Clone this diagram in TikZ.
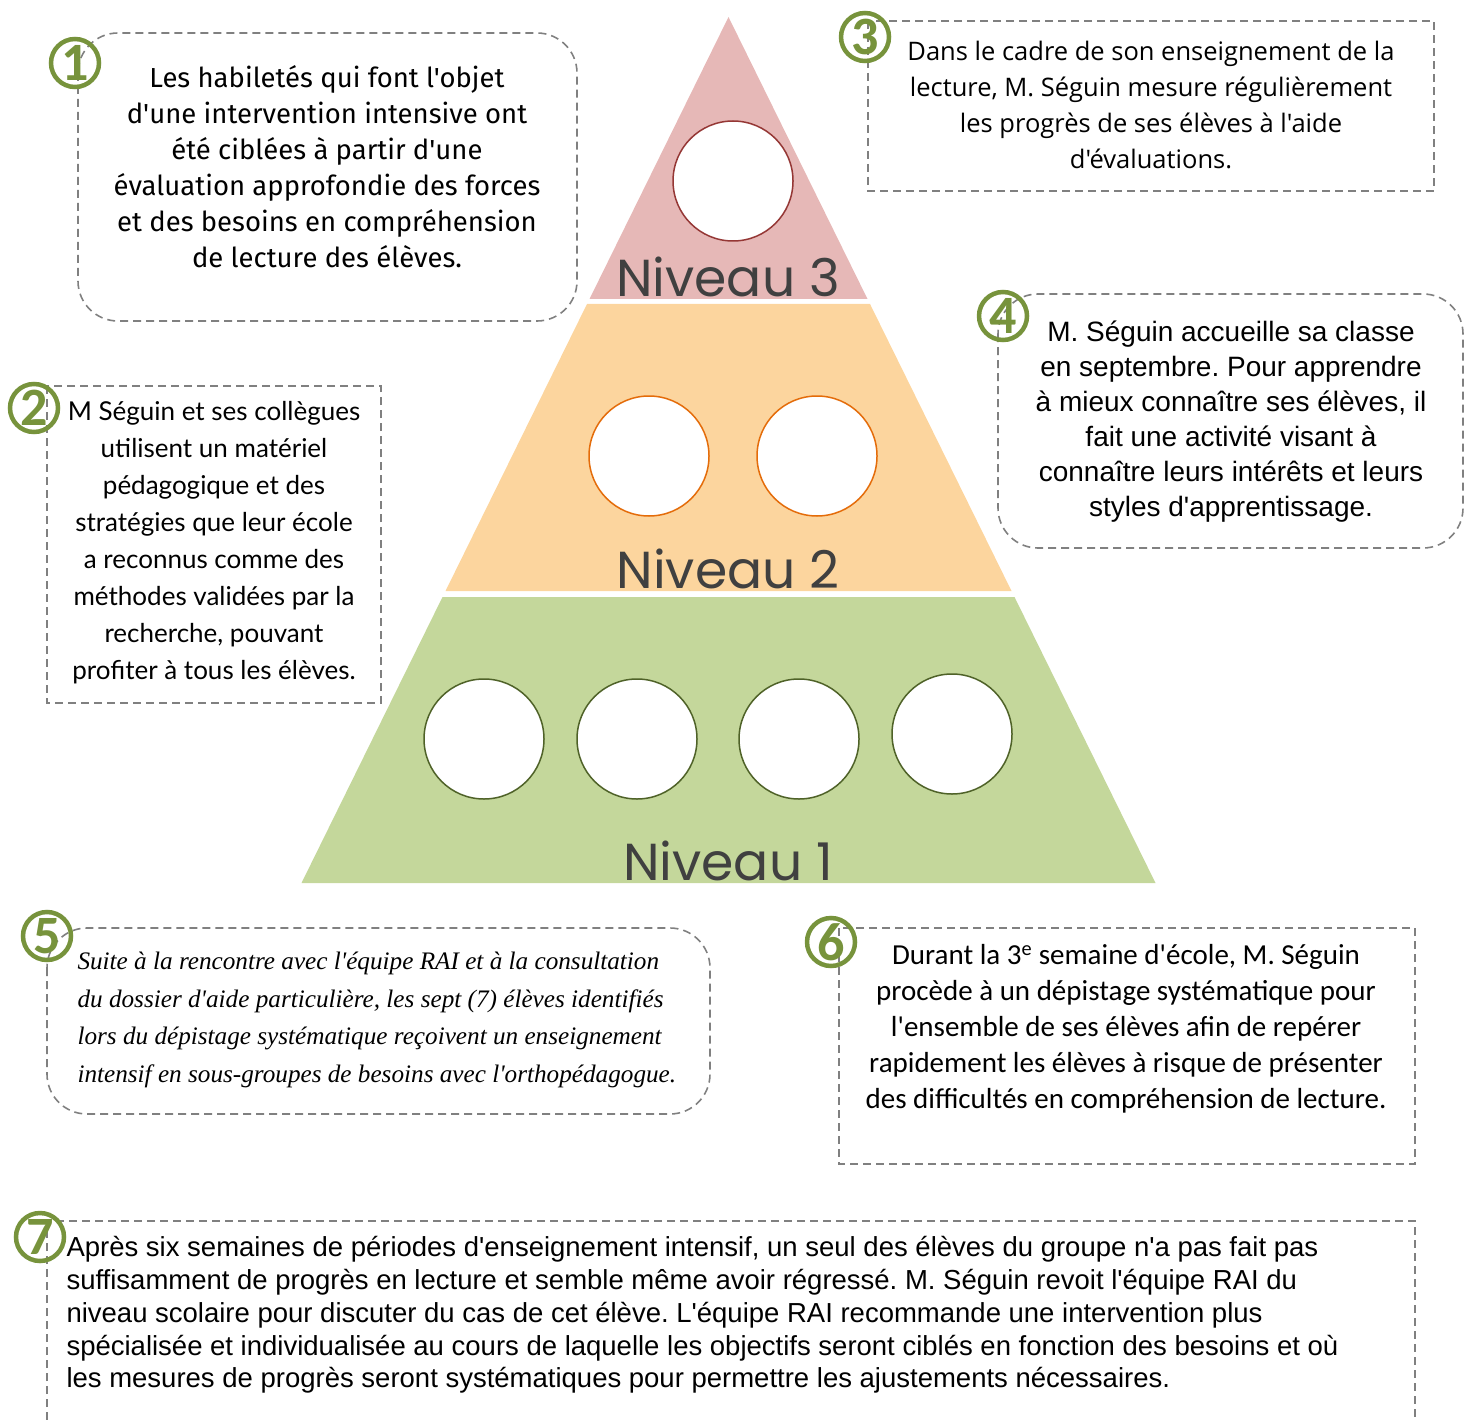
\documentclass[tikz,border=0pt]{standalone}
\usepackage{fontspec}
\setmainfont{Liberation Sans}
\newfontfamily\niveaufont{Poppins}
\newfontfamily\boxafont{Fira Sans}
\newfontfamily\boxbfont{Lato}
\newfontfamily\boxcfont{Open Sans}
\newfontfamily\boxdfont{Liberation Sans}
\newfontfamily\boxefont{Liberation Serif}
\newfontfamily\boxffont{Carlito}
\definecolor{lvlthree}{HTML}{E6B8B7}
\definecolor{lvltwo}{HTML}{FCD59E}
\definecolor{lvlone}{HTML}{C4D79B}
\definecolor{ringthree}{HTML}{953735}
\definecolor{ringtwo}{HTML}{E46C0A}
\definecolor{ringone}{HTML}{4F6228}
\definecolor{badgegreen}{HTML}{77933C}
\definecolor{dashgrey}{HTML}{808080}
\definecolor{niveaugrey}{HTML}{404040}
\begin{document}
\frenchspacing
\begin{tikzpicture}[x=1pt,y=-1pt,
  dbox/.style={draw=dashgrey,line width=1.6pt,dash pattern=on 8pt off 5pt},
  rbox/.style={dbox,rounded corners=40pt},
  badge/.style={circle,draw=badgegreen,line width=4.5pt,minimum size=48pt,inner sep=0pt,text=badgegreen,font=\boxffont\bfseries\fontsize{54}{54}\selectfont},
  ring/.style={circle,fill=white,line width=1.5pt,minimum size=120pt,inner sep=0pt},
  niveau/.style={anchor=base,text=niveaugrey,font=\niveaufont\fontsize{52}{52}\selectfont}
]
\useasboundingbox (0,0) rectangle (1471,1420);
% pyramid
\fill[lvlthree] (728.5,17) -- (867.5,299) -- (589.5,299) -- cycle;
\fill[lvltwo] (587,304) -- (870,304) -- (1011.5,591) -- (445.5,591) -- cycle;
\fill[lvlone] (442.5,597) -- (1014.5,597) -- (1155.5,883) -- (301.5,883) -- cycle;
\node[ring,draw=ringthree] (c31) at (733,181) {};
\node[ring,draw=ringtwo] (c21) at (649,456) {};
\node[ring,draw=ringtwo] (c22) at (817,456) {};
\node[ring,draw=ringone] (c11) at (484,739) {};
\node[ring,draw=ringone] (c12) at (637,739) {};
\node[ring,draw=ringone] (c13) at (799,739) {};
\node[ring,draw=ringone] (c14) at (952,734) {};
\node[niveau] (n3) at (728,297) {Niveau 3};
\node[niveau] (n2) at (728,588) {Niveau 2};
\node[niveau] (n1) at (728,880) {Niveau 1};
% box 1
\draw[rbox] (78,33) rectangle (577,321);
\node[align=center,font=\boxafont\fontsize{27.5}{36}\selectfont] (t1) at (327,167)
 {Les habiletés qui font l'objet\\ d'une intervention intensive ont\\ été ciblées à partir d'une\\ évaluation approfondie des forces\\ et des besoins en compréhension\\ de lecture des élèves.};
\node[badge] (b1) at (75,63) {1};
% box 2
\draw[dbox] (47,386) rectangle (381,703);
\node[align=center,font=\boxbfont\fontsize{26}{37}\selectfont] (t2) at (214,543)
 {M Séguin et ses collègues\\ utilisent un matériel\\ pédagogique et des\\ stratégies que leur école\\ a reconnus comme des\\ méthodes validées par la\\ recherche, pouvant\\ profiter à tous les élèves.};
\node[badge] (b2) at (34,408) {2};
% box 3
\draw[dbox] (868,21) rectangle (1434,191);
\node[align=center,font=\boxcfont\fontsize{25.5}{36}\selectfont] (t3) at (1151,105)
 {Dans le cadre de son enseignement de la\\ lecture, M. Séguin mesure régulièrement\\ les progrès de ses élèves à l'aide\\ d'évaluations.};
\node[badge] (b3) at (865,37) {3};
% box 4
\draw[rbox] (998,294) rectangle (1463,548);
\node[align=center,font=\boxdfont\fontsize{28}{35}\selectfont] (t4) at (1231,422)
 {M. Séguin accueille sa classe\\ en septembre. Pour apprendre\\ à mieux connaître ses élèves, il\\ fait une activité visant à\\ connaître leurs intérêts et leurs\\ styles d'apprentissage.};
\node[badge] (b4) at (1003,316) {4};
% box 5
\draw[rbox] (47,928) rectangle (710,1114);
\node[align=left,anchor=west,font=\boxefont\itshape\fontsize{25.2}{37.5}\selectfont] (t5) at (74,1020)
 {Suite à la rencontre avec l'équipe RAI et à la consultation\\ du dossier d'aide particulière, les sept (7) élèves identifiés\\ lors du dépistage systématique reçoivent un enseignement\\ intensif en sous-groupes de besoins avec l'orthopédagogue.};
\node[badge] (b5) at (47,936) {5};
% box 6
\draw[dbox] (839,928) rectangle (1415,1164);
\node[align=center,font=\boxffont\fontsize{29}{36}\selectfont] (t6) at (1126,1029)
 {Durant la 3\textsuperscript{e} semaine d'école, M. Séguin\\ procède à un dépistage systématique pour\\ l'ensemble de ses élèves afin de repérer\\ rapidement les élèves à risque de présenter\\ des difficultés en compréhension de lecture.};
\node[badge] (b6) at (831,942) {6};
% box 7
\draw[dbox] (47,1420) -- (47,1221) -- (1415,1221) -- (1415,1420);
\node[align=left,anchor=west,font=\boxdfont\fontsize{27.5}{32.8}\selectfont] (t7) at (63,1315)
 {Après six semaines de périodes d'enseignement intensif, un seul des élèves du groupe n'a pas fait pas\\ suffisamment de progrès en lecture et semble même avoir régressé. M. Séguin revoit l'équipe RAI du\\ niveau scolaire pour discuter du cas de cet élève. L'équipe RAI recommande une intervention plus\\ spécialisée et individualisée au cours de laquelle les objectifs seront ciblés en fonction des besoins et où\\ les mesures de progrès seront systématiques pour permettre les ajustements nécessaires.};
\node[badge] (b7) at (40,1237) {7};
\end{tikzpicture}
\end{document}
